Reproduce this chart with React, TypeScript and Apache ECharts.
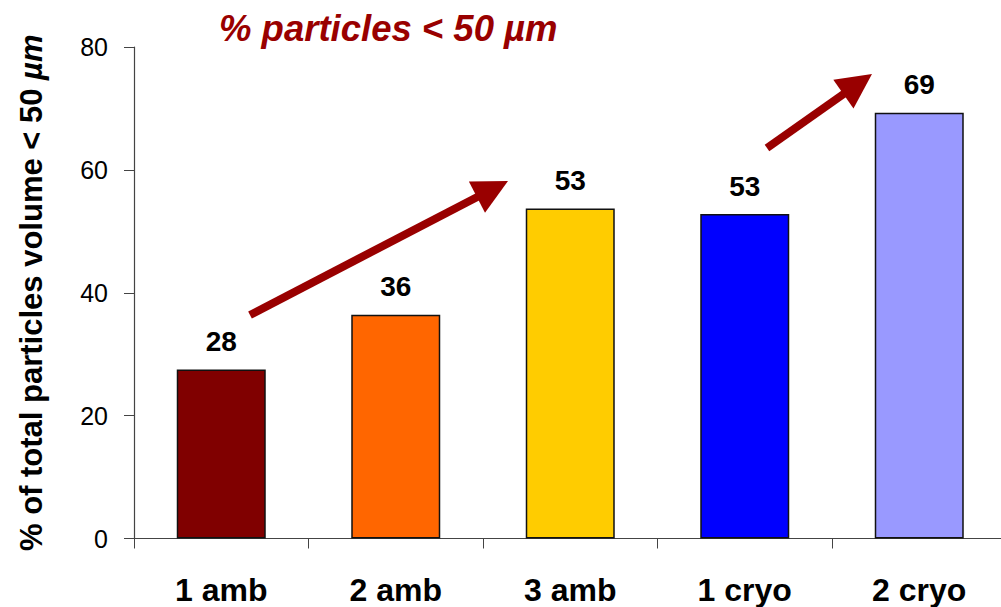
import React, { useEffect, useRef } from "react";
import * as echarts from "echarts";

const categories = ["1 amb", "2 amb", "3 amb", "1 cryo", "2 cryo"];
const values = [27.5, 36.4, 53.7, 52.8, 69.3];
const valueLabels = ["28", "36", "53", "53", "69"];
const barColors = ["#800000", "#FF6600", "#FFCC00", "#0000FF", "#9999FF"];
const yTicks = { min: 0, max: 80, interval: 20 };

const FONT = "'Liberation Sans', Arial, Helvetica, sans-serif";
const ARROW = "#990000";

function arrow(tail: number[], tip: number[]) {
  const dx = tip[0] - tail[0];
  const dy = tip[1] - tail[1];
  const len = Math.sqrt(dx * dx + dy * dy);
  const ux = dx / len;
  const uy = dy / len;
  const headLen = 35;
  const headHalf = 17.5;
  const bx = tip[0] - ux * headLen;
  const by = tip[1] - uy * headLen;
  const px = -uy;
  const py = ux;
  return [
    {
      type: "line",
      shape: { x1: tail[0], y1: tail[1], x2: bx + ux * 2, y2: by + uy * 2 },
      style: { stroke: ARROW, lineWidth: 8, lineCap: "butt" },
      silent: true,
    },
    {
      type: "polygon",
      shape: {
        points: [
          [tip[0], tip[1]],
          [bx + px * headHalf, by + py * headHalf],
          [bx - px * headHalf, by - py * headHalf],
        ],
      },
      style: { fill: ARROW },
      silent: true,
    },
  ];
}

export default function App() {
  const ref = useRef<HTMLDivElement>(null);
  useEffect(() => {
    if (!ref.current) return;
    const chart = echarts.init(ref.current, null, { renderer: "svg" });
    chart.setOption({
      animation: false,
      backgroundColor: "#ffffff",
      title: {
        text: "% particles < 50 µm",
        left: 214,
        top: 5,
        textStyle: {
          color: ARROW,
          fontFamily: FONT,
          fontWeight: "bold",
          fontStyle: "italic",
          fontSize: 36.5,
        },
      },
      grid: {
        left: 134,
        width: 872.5,
        top: 47,
        bottom: 68.5,
        containLabel: false,
        outerBoundsMode: "none",
      },
      xAxis: {
        type: "category",
        data: categories,
        axisLine: { lineStyle: { color: "#444", width: 1.2 } },
        axisTick: { show: true, length: 10, inside: false, lineStyle: { color: "#444" } },
        axisLabel: {
          margin: 35,
          color: "#000",
          fontFamily: FONT,
          fontWeight: "bold",
          fontSize: 32,
          interval: 0,
        },
      },
      yAxis: {
        type: "value",
        min: yTicks.min,
        max: yTicks.max,
        interval: yTicks.interval,
        name: "{b|% of total particles volume < 50 }{i|µm}",
        nameLocation: "middle",
        nameRotate: 90,
        nameGap: 87,
        nameTextStyle: {
          rich: {
            b: { fontFamily: FONT, fontWeight: "bold", fontSize: 31, color: "#000" },
            i: { fontFamily: FONT, fontWeight: "bold", fontStyle: "italic", fontSize: 31, color: "#000" },
          },
        },
        splitLine: { show: false },
        axisLine: { show: true, lineStyle: { color: "#444", width: 1.2 } },
        axisTick: { show: true, length: 10, inside: false, lineStyle: { color: "#444" } },
        axisLabel: { margin: 26, color: "#000", fontFamily: FONT, fontSize: 25 },
      },
      series: [
        {
          type: "bar",
          barWidth: 89,
          data: values.map((v, i) => ({
            value: v,
            itemStyle: { color: barColors[i], borderColor: "#111", borderWidth: 1.5 },
          })),
          label: {
            show: true,
            position: "top",
            distance: 14,
            color: "#000",
            fontFamily: FONT,
            fontWeight: "bold",
            fontSize: 28,
            formatter: (p: any) => valueLabels[p.dataIndex],
          },
        },
      ],
      graphic: [...arrow([250, 315], [508, 181]), ...arrow([767, 148], [872, 74])],
    });
    return () => chart.dispose();
  }, []);
  return (
    <div
      style={{
        position: "fixed",
        left: 0,
        top: 0,
        width: 1001,
        height: 607,
        overflow: "hidden",
        background: "#fff",
      }}
    >
      <div ref={ref} style={{ width: 1012, height: 607 }} />
    </div>
  );
}
